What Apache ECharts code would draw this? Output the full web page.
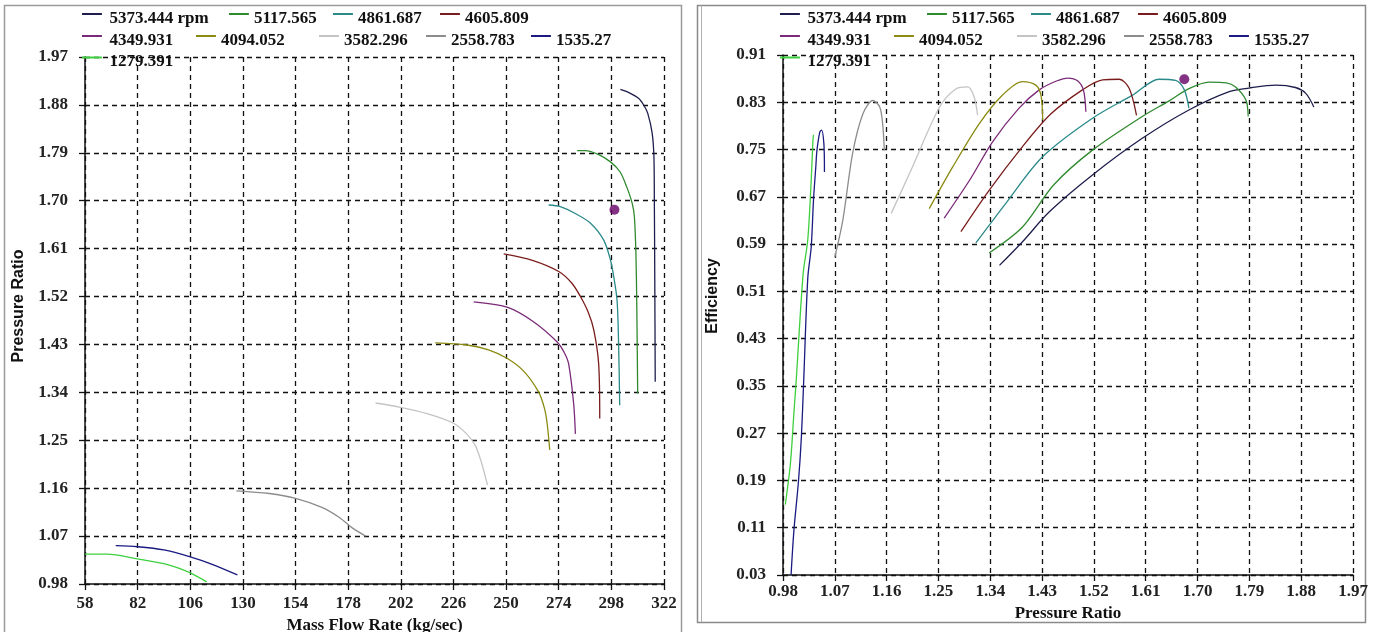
<!DOCTYPE html>
<html>
<head>
<meta charset="utf-8">
<title>Compressor map</title>
<script src="https://cdn.jsdelivr.net/npm/echarts@6/dist/echarts.min.js"></script>
<style>
  html, body { margin: 0; padding: 0; background: #fff; }
  #chart { width: 1378px; height: 632px; }
</style>
</head>
<body>
<div id="chart"></div>
<script>
// speed lines, same order in both charts
const speeds = ['5373.444 rpm', '5117.565', '4861.687', '4605.809', '4349.931',
  '4094.052', '3582.296', '2558.783', '1535.27', '1279.391'];
const lineColors = ['#1e1e4c', '#2f8a2f', '#2a8a8a', '#7b1c1c', '#7a2a78',
  '#8a8a10', '#c4c4c4', '#8c8c8c', '#1a1a80', '#3ecf3e'];

// mass flow rate (kg/sec) vs pressure ratio
const flow5373 = [[302.1,1.909],[306,1.903],[310.5,1.892],[313,1.878],[314.6,1.864],[316.6,1.827],[317.4,1.783],[317.6,1.70],[317.8,1.55],[318,1.36]];
const flow5117 = [[282.4,1.794],[286.2,1.794],[292,1.787],[297.6,1.773],[302,1.754],[305,1.726],[307.5,1.695],[308.5,1.670],[309.2,1.60],[309.6,1.50],[310,1.338]];
const flow4861 = [[269.4,1.692],[274.7,1.689],[282,1.675],[288.4,1.658],[294.5,1.626],[297.5,1.590],[299.1,1.557],[300.6,1.513],[301.3,1.432],[301.8,1.316]];
const flow4605 = [[248.9,1.600],[262,1.588],[274,1.567],[280,1.545],[283.9,1.520],[287.5,1.490],[290,1.457],[292.2,1.394],[292.7,1.291]];
const flow4349 = [[235.2,1.510],[250.4,1.500],[262,1.474],[273.2,1.435],[276.5,1.415],[278.5,1.394],[280.8,1.319],[281.6,1.262]];
const flow4094 = [[217.7,1.433],[232.2,1.429],[242,1.420],[250.4,1.404],[258,1.380],[264.8,1.341],[267.5,1.310],[268.7,1.282],[269.9,1.232]];
const flow3582 = [[190.5,1.320],[202,1.312],[214,1.300],[226,1.282],[232,1.262],[236,1.240],[239,1.205],[241.5,1.166]];
const flow2558 = [[127,1.155],[142,1.150],[154,1.141],[166,1.124],[174,1.105],[180,1.085],[186,1.070]];
const flow1535 = [[72,1.052],[82,1.050],[94,1.044],[106,1.031],[116,1.017],[127.5,0.997]];
const flow1279 = [[58,1.036],[68,1.036],[82,1.027],[96,1.016],[106,1.001],[113.5,0.984]];
const flowLines = [flow5373, flow5117, flow4861, flow4605, flow4349, flow4094, flow3582, flow2558, flow1535, flow1279];

// pressure ratio vs efficiency
const eff5373 = [[1.356,0.554],[1.396,0.594],[1.443,0.645],[1.5175,0.707],[1.604,0.769],[1.685,0.817],[1.755,0.848],[1.789,0.854],[1.836,0.859],[1.870,0.855],[1.888,0.845],[1.902,0.822]];
const eff5117 = [[1.338,0.575],[1.396,0.619],[1.45,0.690],[1.5175,0.749],[1.604,0.806],[1.65,0.832],[1.685,0.853],[1.72,0.864],[1.75,0.863],[1.766,0.856],[1.784,0.834],[1.788,0.806]];
const eff4861 = [[1.315,0.592],[1.367,0.659],[1.43,0.737],[1.5175,0.803],[1.587,0.842],[1.633,0.869],[1.662,0.867],[1.677,0.851],[1.685,0.820]];
const eff4605 = [[1.289,0.611],[1.338,0.681],[1.396,0.755],[1.445,0.810],[1.50,0.851],[1.535,0.868],[1.564,0.869],[1.581,0.854],[1.594,0.808]];
const eff4349 = [[1.260,0.634],[1.304,0.698],[1.344,0.763],[1.390,0.820],[1.425,0.851],[1.455,0.866],[1.475,0.871],[1.492,0.866],[1.502,0.850],[1.506,0.814]];
const eff4094 = [[1.234,0.650],[1.275,0.721],[1.321,0.794],[1.361,0.842],[1.396,0.865],[1.419,0.859],[1.428,0.842],[1.431,0.800]];
const eff3582 = [[1.168,0.642],[1.205,0.721],[1.252,0.822],[1.281,0.853],[1.301,0.856],[1.312,0.839],[1.318,0.808]];
const eff2558 = [[1.070,0.568],[1.084,0.631],[1.101,0.744],[1.119,0.811],[1.136,0.833],[1.148,0.822],[1.153,0.794],[1.156,0.749]];
const eff1535 = [[0.994,0.030],[0.999,0.106],[1.007,0.190],[1.012,0.265],[1.016,0.360],[1.023,0.532],[1.029,0.585],[1.033,0.665],[1.037,0.721],[1.039,0.749],[1.044,0.780],[1.047,0.783],[1.051,0.760],[1.052,0.712]];
const eff1279 = [[0.984,0.149],[0.993,0.220],[0.999,0.305],[1.003,0.360],[1.015,0.540],[1.023,0.597],[1.029,0.698],[1.032,0.766],[1.033,0.775]];
const effLines = [eff5373, eff5117, eff4861, eff4605, eff4349, eff4094, eff3582, eff2558, eff1535, eff1279];

// operating point
const opFlow = [[299.4, 1.683]];
const opEff = [[1.677, 0.869]];

// tick labels
const flowTicks = [58, 82, 106, 130, 154, 178, 202, 226, 250, 274, 298, 322];
const prTicks = [0.98, 1.07, 1.16, 1.25, 1.34, 1.43, 1.52, 1.61, 1.70, 1.79, 1.88, 1.97];
const effTicks = [0.03, 0.11, 0.19, 0.27, 0.35, 0.43, 0.51, 0.59, 0.67, 0.75, 0.83, 0.91];

const serif = 'Liberation Serif';
const ink = '#111';

function axis(ticks, gridIndex, digits, labelMargin, extra) {
  return Object.assign({
    type: 'value',
    gridIndex: gridIndex,
    min: ticks[0],
    max: ticks[ticks.length - 1],
    interval: +(ticks[1] - ticks[0]).toFixed(4),
    axisLine: { show: true, onZero: false, lineStyle: { color: ink, width: 1.5 } },
    axisTick: { show: true, length: 6, lineStyle: { color: ink, width: 1.3 } },
    axisLabel: {
      fontFamily: serif, fontWeight: 'bold', fontSize: 17, color: '#222',
      margin: labelMargin,
      formatter: v => v.toFixed(digits)
    },
    splitLine: { show: true, lineStyle: { color: ink, type: [5, 4], width: 1.3 } }
  }, extra || {});
}

// legend rows: [speed index, text offset from the y axis]
const legendRows = [
  [[0, 27], [1, 169], [2, 273], [3, 380]],
  [[4, 27], [5, 136], [6, 259], [7, 366], [8, 471]],
  [[9, 27]]
];
const rowCenters = [19, 41, 62.5];
// short line sitting near the top of the item box
const lineIcon = 'path://M0,0L20,0L20,2L0,2ZM0,11L0.05,11L0.05,11.05L0,11.05Z';

function legendsFor(axisX) {
  const out = [];
  legendRows.forEach((row, r) => row.forEach(([i, dx], c) => {
    const w = c === 0 ? 25 : 20;
    out.push({
      data: [speeds[i]],
      left: axisX + dx - 5 - w,
      top: rowCenters[r] - 9,
      orient: 'horizontal',
      itemWidth: w, itemHeight: 11, itemGap: 0,
      icon: lineIcon, selectedMode: false, padding: 0,
      textStyle: { fontFamily: serif, fontWeight: 'bold', fontSize: 17, color: ink }
    });
  }));
  return out;
}

const series = [];
flowLines.forEach((d, i) => series.push({
  type: 'line', name: speeds[i], xAxisIndex: 0, yAxisIndex: 0, data: d,
  symbol: 'none', smooth: 0.3, color: lineColors[i], lineStyle: { width: 1.3 }, silent: true, z: 3
}));
effLines.forEach((d, i) => series.push({
  type: 'line', name: speeds[i], xAxisIndex: 1, yAxisIndex: 1, data: d,
  symbol: 'none', smooth: 0.3, color: lineColors[i], lineStyle: { width: 1.3 }, silent: true, z: 3
}));
series.push({ type: 'scatter', name: 'op', xAxisIndex: 0, yAxisIndex: 0, data: opFlow, symbolSize: 10, itemStyle: { color: '#650065' }, z: 4 });
series.push({ type: 'scatter', name: 'op', xAxisIndex: 1, yAxisIndex: 1, data: opEff, symbolSize: 10, itemStyle: { color: '#650065' }, z: 4 });

const xTitle = { fontFamily: serif, fontWeight: 'bold', fontSize: 17, color: ink };

const option = {
  backgroundColor: '#fff',
  animation: false,
  grid: [
    { left: 85, top: 57, width: 579, height: 527, outerBoundsMode: 'none' },
    { left: 783, top: 55, width: 570, height: 520, outerBoundsMode: 'none' }
  ],
  xAxis: [
    axis(flowTicks, 0, 0, 11, { name: 'Mass Flow Rate (kg/sec)', nameLocation: 'middle', nameGap: 30, nameTextStyle: xTitle }),
    axis(prTicks, 1, 2, 8, { name: 'Pressure Ratio', nameLocation: 'middle', nameGap: 26, nameTextStyle: xTitle })
  ],
  yAxis: [
    axis(prTicks, 0, 2, 17),
    axis(effTicks, 1, 2, 17)
  ],
  legend: legendsFor(85).concat(legendsFor(783)),
  graphic: [
    { type: 'rect', silent: true, z: -10, shape: { x: 4.5, y: 5.5, width: 677, height: 640 }, style: { fill: 'none', stroke: '#9a9a9a', lineWidth: 1.5 } },
    { type: 'rect', silent: true, z: -10, shape: { x: 697.5, y: 5.5, width: 668, height: 617 }, style: { fill: 'none', stroke: '#8a8a8a', lineWidth: 1.5 } },
    { type: 'line', silent: true, z: -10, shape: { x1: 701.5, y1: 5.5, x2: 701.5, y2: 622 }, style: { stroke: '#b0b0b0', lineWidth: 1 } },
    { type: 'text', silent: true, x: 19, y: 306, rotation: Math.PI / 2,
      style: { text: 'Pressure Ratio', fontFamily: 'Liberation Sans', fontWeight: 'bold', fontSize: 16, fill: ink, align: 'center', verticalAlign: 'middle' } },
    { type: 'text', silent: true, x: 713, y: 296, rotation: Math.PI / 2,
      style: { text: 'Efficiency', fontFamily: 'Liberation Sans', fontWeight: 'bold', fontSize: 16, fill: ink, align: 'center', verticalAlign: 'middle' } }
  ],
  series: series
};

const myChart = echarts.init(document.getElementById('chart'));
myChart.setOption(option);
window.onresize = function () { myChart.resize(); };
</script>
</body>
</html>
